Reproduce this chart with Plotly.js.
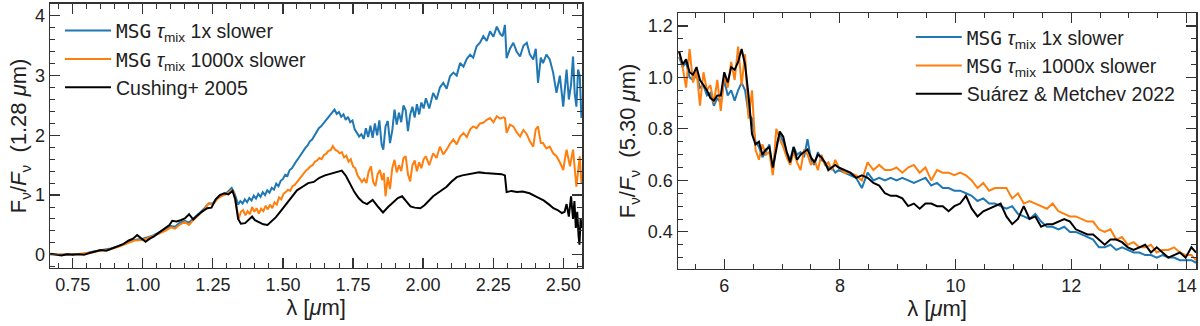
<!DOCTYPE html>
<html>
<head>
<meta charset="utf-8">
<script src="https://cdn.plot.ly/plotly-3.0.1.min.js"></script>
<style>
  html, body { margin: 0; padding: 0; background: #fff; }
  #plot { width: 1200px; height: 326px; }
</style>
</head>
<body>
<div id="plot"></div>
<script>
// ---- near-IR panel (normalised at 1.28 um) ----
var cushLam = [0.670,0.690,0.710,0.730,0.750,0.770,0.790,0.810,0.830,0.850,0.870,0.890,0.910,0.930,0.950,0.965,0.980,0.995,1.010,1.025,
  1.040,1.060,1.080,1.095,1.105,1.120,1.135,1.150,1.165,1.180,1.195,1.210,1.230,1.245,1.260,1.275,1.290,1.305,1.320,1.330,
  1.340,1.350,1.365,1.380,1.390,1.400,1.415,1.430,1.445,1.460,1.475,1.490,1.505,1.520,1.535,1.550,1.570,1.590,1.610,1.630,
  1.650,1.670,1.690,1.710,1.725,1.740,1.755,1.770,1.785,1.800,1.820,1.840,1.857,1.875,1.893,1.910,1.925,1.940,1.955,1.970,
  1.990,2.005,2.020,2.036,2.060,2.084,2.100,2.120,2.140,2.160,2.180,2.200,2.220,2.240,2.260,2.280,2.292,2.298,2.315,2.335,
  2.355,2.380,2.405,2.430,2.450,2.465,2.480,2.495,2.505,2.512,2.520,2.528,2.535,2.540,2.545,2.550,2.555,2.558,2.562,2.567];
var cushFlux = [0.02,0.00,-0.01,0.01,0.00,0.01,0.00,0.03,0.06,0.08,0.07,0.11,0.14,0.18,0.24,0.27,0.33,0.27,0.22,0.27,
  0.31,0.38,0.44,0.50,0.57,0.56,0.58,0.61,0.68,0.59,0.66,0.72,0.78,0.79,0.93,1.00,1.03,1.01,1.07,0.93,
  0.60,0.52,0.53,0.60,0.64,0.58,0.54,0.51,0.50,0.56,0.63,0.72,0.81,0.90,0.99,1.08,1.14,1.20,1.22,1.29,
  1.33,1.36,1.38,1.41,1.32,1.18,1.05,0.95,0.88,0.85,0.92,0.80,0.71,0.80,0.88,0.95,0.98,0.90,0.81,0.79,
  0.78,0.83,0.90,0.98,1.06,1.14,1.22,1.30,1.33,1.35,1.37,1.38,1.37,1.36,1.36,1.35,1.33,1.05,1.07,1.05,
  1.06,1.03,0.97,0.91,0.84,0.78,0.75,0.70,0.72,0.85,0.64,0.98,0.60,0.90,0.45,0.72,0.30,0.17,0.60,0.45];

var fastLam = [0.670,0.700,0.730,0.760,0.790,0.820,0.850,0.880,0.910,0.940,0.970,1.000,1.030,1.060,1.080,1.100,1.115,1.130,1.150,1.165,
  1.180,1.200,1.220,1.235,1.250,1.265,1.280,1.300,1.317,1.328,
  1.340,1.348,1.356,1.364,1.372,1.380,1.388,1.396,1.404,1.412,1.420,1.428,1.436,1.444,1.452,1.460,1.468,1.476,1.484,1.492,
  1.500,1.508,1.516,1.524,1.532,1.540,1.548,1.556,1.564,1.572,1.580,1.588,1.596,1.604,1.612,1.620,1.628,1.636,1.644,1.652,
  1.660,1.668,1.676,1.684,1.692,1.700,1.708,1.716,1.724,1.732,1.740,1.748,1.756,1.764,1.772,1.780,1.788,1.796,1.804,1.812,
  1.820,1.828,1.836,1.844,1.852,1.858,1.866,1.874,1.882,1.890,1.898,1.906,1.914,1.922,1.930,1.938,1.946,1.954,1.962,1.970,
  1.978,1.986,1.994,2.002,2.010,2.022,2.036,2.048,2.060,2.072,2.084,2.096,2.108,2.120,
  2.132,2.144,2.156,2.168,2.179,2.191,2.203,2.215,2.227,2.239,2.251,2.263,2.275,2.284,2.292,2.298,2.310,2.322,2.334,2.346,
  2.358,2.370,2.381,2.393,2.402,2.410,2.420,2.428,2.440,2.452,2.464,2.476,2.488,2.500,2.506,2.512,2.520,2.528,2.535,2.541,
  2.547,2.553,2.559,2.565];
var fastFlux = [0.01,0.00,0.01,0.01,0.02,0.05,0.07,0.10,0.14,0.20,0.25,0.27,0.31,0.38,0.42,0.48,0.47,0.53,0.57,0.54,
  0.60,0.69,0.78,0.86,0.86,0.95,1.00,1.04,1.12,1.02,
  0.84,0.90,0.86,0.93,0.88,0.95,0.91,0.99,0.94,1.02,0.97,1.05,1.00,1.08,1.04,1.12,1.09,1.19,1.15,1.24,
  1.27,1.34,1.32,1.42,1.45,1.52,1.57,1.62,1.68,1.72,1.79,1.83,1.90,1.93,2.00,2.05,2.12,2.15,2.20,2.24,
  2.30,2.33,2.38,2.43,2.36,2.39,2.31,2.35,2.26,2.31,2.22,2.25,2.10,2.05,1.98,2.02,1.94,2.12,1.97,2.16,
  1.96,2.20,2.00,2.25,1.85,1.76,2.15,2.24,1.87,2.08,2.43,2.18,2.38,2.22,2.50,2.42,2.07,2.35,2.48,2.30,
  2.52,2.35,2.55,2.45,2.62,2.45,2.71,2.60,2.80,2.88,2.78,2.99,3.05,3.00,
  3.21,3.15,3.28,3.35,3.30,3.49,3.55,3.66,3.58,3.74,3.65,3.82,3.70,3.66,3.85,3.29,3.45,3.55,3.40,3.32,
  3.50,3.55,3.35,3.27,3.45,2.88,3.30,3.21,3.35,3.27,3.05,2.71,3.00,2.48,2.80,3.10,2.60,2.85,3.32,2.70,
  2.48,3.10,3.00,2.29];

var slowLam = [0.670,0.700,0.730,0.760,0.790,0.820,0.850,0.880,0.910,0.940,0.970,1.000,1.030,1.060,1.080,1.100,1.115,1.130,1.150,1.165,
  1.180,1.200,1.220,1.235,1.250,1.265,1.280,1.300,1.315,1.325,1.335,
  1.342,1.350,1.358,1.366,1.374,1.382,1.390,1.398,1.406,1.414,1.422,1.430,1.438,1.446,1.454,1.462,1.470,1.478,1.486,1.494,
  1.502,1.510,1.518,1.526,1.534,1.542,1.550,1.558,1.566,1.574,1.582,1.590,1.598,1.606,1.614,1.622,1.630,1.638,1.646,1.654,
  1.662,1.670,1.678,1.686,1.694,1.702,1.710,1.718,1.726,1.734,1.742,1.750,1.758,1.766,1.774,1.782,1.790,1.798,1.806,1.814,
  1.822,1.830,1.838,1.846,1.854,1.860,1.866,1.874,1.882,1.890,1.898,1.906,1.914,1.922,1.930,1.938,1.946,1.954,1.962,1.970,
  1.978,1.986,1.994,2.002,2.010,2.022,2.036,2.048,2.060,2.072,2.084,2.096,2.108,2.120,2.132,2.144,
  2.156,2.168,2.179,2.191,2.203,2.215,2.227,2.239,2.251,2.263,2.275,2.286,2.292,2.298,2.310,2.322,2.334,2.346,2.358,2.370,
  2.381,2.393,2.402,2.410,2.420,2.428,2.440,2.452,2.464,2.476,2.488,2.500,2.506,2.512,2.524,2.535,2.547,2.553,2.559,2.565];
var slowFlux = [0.01,0.00,0.00,0.01,0.02,0.04,0.07,0.09,0.13,0.19,0.24,0.25,0.30,0.36,0.40,0.46,0.44,0.50,0.55,0.50,
  0.58,0.67,0.76,0.86,0.84,0.93,0.98,1.02,1.08,1.03,0.80,
  0.60,0.72,0.75,0.66,0.73,0.68,0.80,0.72,0.78,0.69,0.77,0.73,0.82,0.76,0.84,0.78,0.88,0.84,0.96,0.93,
  1.02,1.05,1.09,1.07,1.15,1.17,1.22,1.27,1.32,1.36,1.41,1.44,1.48,1.50,1.56,1.58,1.62,1.60,1.67,1.69,
  1.74,1.75,1.82,1.76,1.74,1.70,1.72,1.63,1.66,1.56,1.60,1.48,1.45,1.33,1.28,1.22,1.27,1.20,1.40,1.48,
  1.22,1.15,1.35,1.42,1.25,1.37,0.98,1.30,1.10,1.45,1.59,1.38,1.50,1.40,1.62,1.65,1.35,1.23,1.50,1.58,
  1.40,1.55,1.45,1.60,1.65,1.50,1.70,1.62,1.81,1.68,1.76,1.86,1.93,1.85,1.98,2.04,
  1.97,2.10,2.15,2.12,2.20,2.21,2.26,2.29,2.22,2.32,2.28,2.30,2.29,2.04,2.18,2.15,2.05,1.98,2.09,2.02,
  1.90,1.81,2.10,2.15,1.87,1.87,1.78,1.81,1.70,1.65,1.55,1.42,1.60,1.76,1.48,1.76,1.14,1.45,1.65,1.20];

// ---- mid-IR panel (normalised at 5.30 um) ----
var midLam = [5.22,5.28,5.34,5.40,5.46,5.52,5.58,5.64,5.70,5.76,5.82,5.88,5.94,6.00,6.06,6.12,6.18,6.24,6.30,6.36,
  6.42,6.48,6.54,6.60,6.66,6.72,6.78,6.84,6.90,6.96,7.02,7.08,7.14,7.20,7.26,7.32,7.38,7.44,7.50,7.56,
  7.62,7.68,7.74,7.80,7.86,7.92,7.98,8.08,8.18,8.28,8.38,8.48,8.58,8.68,8.78,8.88,8.98,9.08,9.18,9.28,
  9.38,9.48,9.58,9.68,9.78,9.88,9.98,10.08,10.18,10.28,10.38,10.48,10.58,10.68,10.78,10.88,10.98,11.08,11.18,11.28,
  11.38,11.48,11.58,11.68,11.78,11.88,11.98,12.08,12.18,12.28,12.38,12.48,12.58,12.68,12.78,12.88,12.98,13.08,13.18,13.28,
  13.38,13.48,13.58,13.68,13.78,13.88,13.98,14.08,14.16];
var suarezFlux = [1.10,1.05,1.07,1.02,1.01,1.04,0.99,0.97,0.95,0.92,0.91,0.93,0.93,1.02,0.98,1.04,1.03,1.06,1.11,1.05,
  0.93,0.78,0.74,0.75,0.70,0.72,0.73,0.65,0.72,0.79,0.77,0.71,0.67,0.73,0.68,0.70,0.71,0.72,0.69,0.67,
  0.70,0.69,0.67,0.64,0.65,0.66,0.65,0.64,0.63,0.61,0.62,0.61,0.59,0.58,0.55,0.54,0.54,0.53,0.50,0.51,
  0.49,0.51,0.51,0.50,0.50,0.48,0.50,0.51,0.54,0.49,0.46,0.48,0.49,0.50,0.51,0.46,0.43,0.45,0.50,0.45,
  0.46,0.42,0.43,0.43,0.44,0.45,0.44,0.41,0.40,0.39,0.39,0.37,0.35,0.37,0.37,0.36,0.34,0.33,0.34,0.35,
  0.32,0.34,0.32,0.30,0.31,0.32,0.30,0.34,0.32];
var midFast = [1.08,1.04,1.06,1.00,0.99,1.01,0.96,0.97,0.93,0.94,0.89,0.92,0.90,0.99,0.93,0.95,0.91,0.95,0.98,0.95,
  0.86,0.84,0.75,0.73,0.69,0.71,0.74,0.63,0.74,0.78,0.75,0.71,0.68,0.73,0.70,0.71,0.69,0.76,0.68,0.66,
  0.71,0.68,0.67,0.65,0.65,0.63,0.64,0.63,0.62,0.61,0.57,0.63,0.60,0.61,0.60,0.61,0.60,0.61,0.60,0.59,
  0.60,0.61,0.58,0.59,0.57,0.57,0.56,0.56,0.55,0.54,0.52,0.53,0.51,0.51,0.50,0.49,0.50,0.47,0.46,0.45,
  0.47,0.44,0.42,0.42,0.41,0.42,0.40,0.40,0.39,0.38,0.37,0.34,0.34,0.35,0.33,0.34,0.33,0.32,0.32,0.31,
  0.31,0.30,0.31,0.30,0.30,0.29,0.29,0.29,0.28];
var midSlow = [1.10,1.04,0.96,1.11,0.98,1.03,0.89,1.02,0.95,0.97,0.90,0.99,0.87,1.01,0.96,1.06,0.99,1.12,0.97,1.09,
  0.84,0.95,0.72,0.68,0.74,0.70,0.71,0.62,0.80,0.76,0.73,0.69,0.66,0.71,0.67,0.64,0.72,0.70,0.66,0.68,
  0.64,0.70,0.66,0.67,0.64,0.68,0.65,0.63,0.63,0.62,0.60,0.67,0.64,0.66,0.64,0.64,0.65,0.63,0.65,0.66,
  0.63,0.65,0.60,0.64,0.63,0.63,0.62,0.63,0.62,0.60,0.57,0.59,0.56,0.57,0.57,0.57,0.53,0.55,0.51,0.52,
  0.51,0.50,0.49,0.51,0.48,0.47,0.46,0.46,0.45,0.44,0.44,0.41,0.40,0.41,0.37,0.38,0.35,0.36,0.34,0.34,
  0.35,0.32,0.33,0.33,0.34,0.32,0.31,0.31,0.29];

var blue = '#1f77b4', orange = '#ff7f0e';
var msg = '<span style="font-family:DejaVu Sans Mono">MSG</span> <i>τ</i><sub>mix</sub>';
var textFont = 'Liberation Sans, Arial, sans-serif';

var traces = [
  {x: fastLam, y: fastFlux, xaxis: 'x', yaxis: 'y', type: 'scatter', mode: 'lines',
   line: {color: blue, width: 2}, name: msg + ' 1x slower', legend: 'legend'},
  {x: slowLam, y: slowFlux, xaxis: 'x', yaxis: 'y', type: 'scatter', mode: 'lines',
   line: {color: orange, width: 2}, name: msg + ' 1000x slower', legend: 'legend'},
  {x: cushLam, y: cushFlux, xaxis: 'x', yaxis: 'y', type: 'scatter', mode: 'lines',
   line: {color: 'black', width: 2}, name: 'Cushing+ 2005', legend: 'legend'},
  {x: midLam, y: midFast, xaxis: 'x2', yaxis: 'y2', type: 'scatter', mode: 'lines',
   line: {color: blue, width: 2}, name: msg + ' 1x slower', legend: 'legend2'},
  {x: midLam, y: midSlow, xaxis: 'x2', yaxis: 'y2', type: 'scatter', mode: 'lines',
   line: {color: orange, width: 2}, name: msg + ' 1000x slower', legend: 'legend2'},
  {x: midLam, y: suarezFlux, xaxis: 'x2', yaxis: 'y2', type: 'scatter', mode: 'lines',
   line: {color: 'black', width: 2}, name: 'Suárez &amp; Metchev 2022', legend: 'legend2'}
];

function frame(extra) {
  var base = {
    showline: true, linecolor: '#333', linewidth: 1.5, mirror: 'ticks',
    ticks: 'inside', ticklen: 10, tickwidth: 1.2, tickcolor: '#333',
    showgrid: false, zeroline: false, automargin: false,
    tickfont: {family: textFont, size: 18, color: '#222'}
  };
  for (var k in extra) base[k] = extra[k];
  return base;
}
function minor(step) {
  return {ticks: 'inside', ticklen: 5, tickwidth: 1, tickcolor: '#333', dtick: step, showgrid: false};
}
var titleFont = {family: textFont, size: 22, color: '#222'};
var legendFont = {family: textFont, size: 19.5, color: '#222'};
var gap = '\u00a0\u00a0';

var layout = {
  width: 1200, height: 326,
  margin: {l: 0, r: 0, t: 0, b: 0},
  paper_bgcolor: 'white', plot_bgcolor: 'white',
  font: {family: textFont, size: 18, color: '#222'},
  showlegend: true,
  xaxis: frame({domain: [0.0417, 0.485], range: [0.669, 2.567], tick0: 0.75, dtick: 0.25, tickformat: '.2f',
    minor: minor(0.05), title: {text: 'λ [<i>μ</i>m]', standoff: 4}, anchor: 'y'}),
  yaxis: frame({domain: [0.178, 0.988], range: [-0.22, 4.2], dtick: 1, minor: minor(0.2),
    title: {text: 'F<sub>ν</sub>/<i>F</i><sub>ν</sub>' + gap + '(1.28\u00a0<i>μ</i>m)', standoff: 2, font: titleFont}, anchor: 'x'}),
  xaxis2: frame({domain: [0.565, 0.9967], range: [5.2, 14.16], tick0: 6, dtick: 2,
    minor: minor(0.5), title: {text: 'λ [<i>μ</i>m]', standoff: 4}, anchor: 'y2'}),
  yaxis2: frame({domain: [0.175, 0.960], range: [0.256, 1.25], tick0: 0.2, dtick: 0.2, tickformat: '.1f',
    minor: minor(0.05),
    title: {text: 'F<sub>ν</sub>/<i>F</i><sub>ν</sub>' + gap + '(5.30\u00a0<i>μ</i>m)', standoff: 6, font: titleFont}, anchor: 'x2'}),
  legend: {x: 0.05, y: 0.965, xanchor: 'left', yanchor: 'top', bgcolor: 'rgba(0,0,0,0)',
    font: legendFont, itemwidth: 46, tracegroupgap: 0},
  legend2: {x: 0.759, y: 0.945, xanchor: 'left', yanchor: 'top', bgcolor: 'rgba(0,0,0,0)',
    font: legendFont, itemwidth: 46, tracegroupgap: 0}
};

Plotly.newPlot('plot', traces, layout, {displayModeBar: false, staticPlot: true});
</script>
</body>
</html>
